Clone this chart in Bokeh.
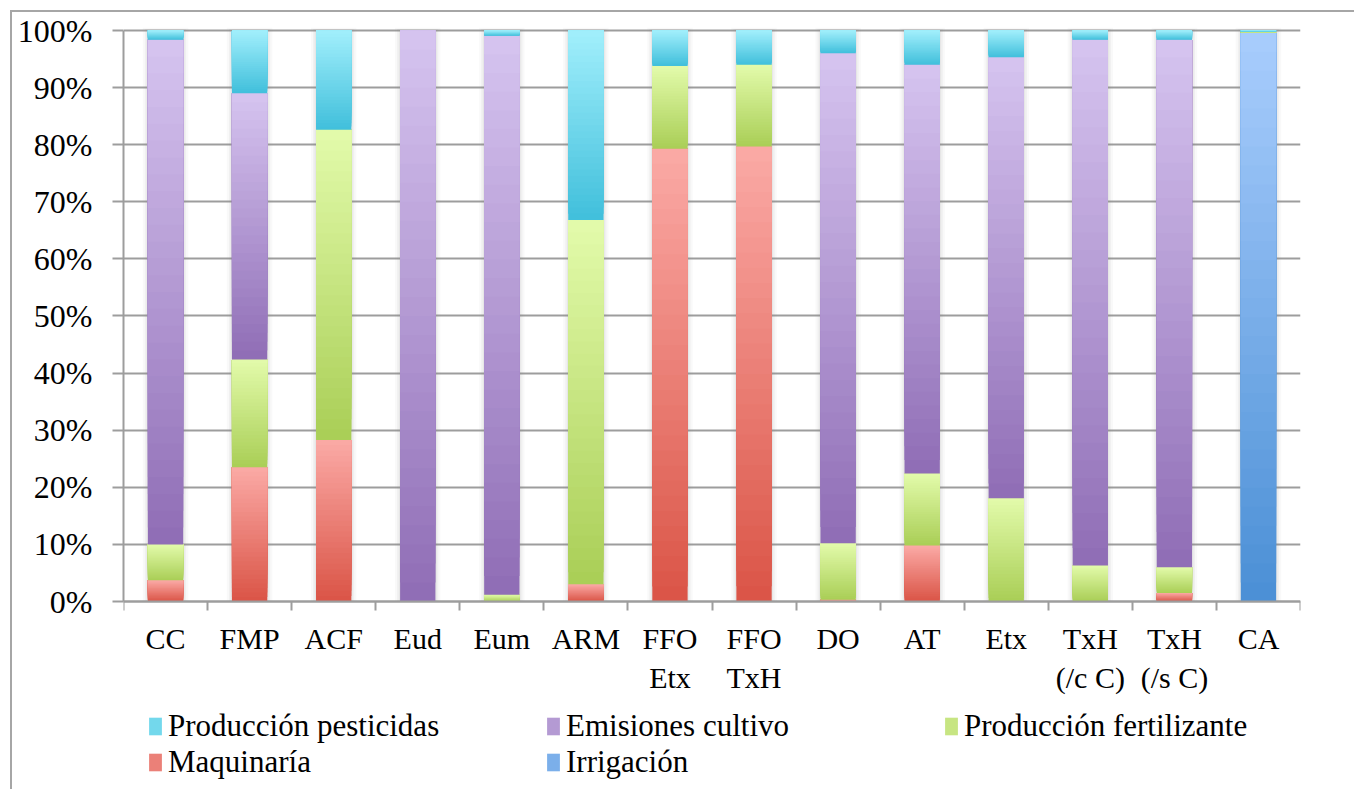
import numpy as np
from bokeh.plotting import figure
from bokeh.models import (Range1d, FixedTicker, PrintfTickFormatter, Legend,
                          LegendItem, ColumnDataSource)
from bokeh.embed import file_html
from bokeh.resources import INLINE

# ---------------- data (percent of total, per category) ----------------
categories = ["CC", "FMP", "ACF", "Eud", "Eum", "ARM", "FFO\nEtx", "FFO\nTxH",
              "DO", "AT", "Etx", "TxH\n(/c C)", "TxH\n(/s C)", "CA"]
irrigacion   = [0, 0, 0, 0, 0, 0, 0, 0, 0, 0, 0, 0, 0, 99.6]
maquinaria   = [3.7, 23.5, 28.3, 0, 0, 3.0, 79.3, 79.7, 0.3, 9.8, 0, 0, 1.5, 0]
fertilizante = [6.3, 18.9, 54.3, 0, 1.2, 63.8, 14.5, 14.3, 9.9, 12.6, 18.1, 6.3, 4.5, 0.2]
emisiones    = [88.4, 46.6, 0, 100, 97.9, 0, 0, 0, 85.8, 71.6, 77.2, 92.1, 92.4, 0]
pesticidas   = [1.6, 11.0, 17.4, 0, 0.9, 33.2, 6.2, 6.0, 4.0, 6.0, 4.7, 1.6, 1.6, 0.2]

series_names = ["Irrigación", "Maquinaría", "Producción fertilizante",
                "Emisiones cultivo", "Producción pesticidas"]
series_values = [irrigacion, maquinaria, fertilizante, emisiones, pesticidas]
# (bottom/dark colour, top/light colour) of each gradient
series_colors = [("#4a8fd5", "#a9cdfd"),
                 ("#da5446", "#fbaaa6"),
                 ("#a9ce56", "#e3fbab"),
                 ("#8f6db5", "#d6c4f0"),
                 ("#40bfdb", "#a2effc")]
legend_order = ["Producción pesticidas", "Emisiones cultivo",
                "Producción fertilizante", "Maquinaría", "Irrigación"]
y_ticks = list(range(0, 101, 10))

FONT = "Liberation Serif"
GRID = "#9d9d9d"
HALF = 0.21
NSLICE = 30


def hex2rgb(h):
    h = h.lstrip("#")
    return np.array([int(h[i:i + 2], 16) for i in (0, 2, 4)], dtype=float)


def lerp(c0, c1, t):
    a, b = hex2rgb(c0), hex2rgb(c1)
    c = a + (b - a) * t
    return "#%02x%02x%02x" % tuple(int(round(v)) for v in c)


# the plot frame reaches down to the legend area; the x axis sits at y = 0
p = figure(width=1344, height=779, output_backend="svg", toolbar_location=None,
           x_range=Range1d(-0.5, len(categories) - 0.5),
           y_range=Range1d(-32.224, 100.525),
           min_border_left=111, min_border_right=56, min_border_top=15,
           min_border_bottom=6)
# chart-area border (top and left edges; the others lie outside the window)
p.styles = {"margin-left": "10px", "margin-top": "10px",
            "border-left": "2px solid #a6a6a6", "border-top": "2px solid #a6a6a6"}
p.outline_line_color = None
p.background_fill_color = "white"
p.border_fill_color = "white"

# soft shadow behind bars
xs = np.arange(len(categories))
for w, a in ((0.06, 0.05), (0.035, 0.07), (0.015, 0.09)):
    p.quad(left=xs - HALF - w, right=xs + HALF + w, bottom=0,
           top=np.array(pesticidas) * 0 + 100.0 + w * 8,
           fill_color="#808080", fill_alpha=a, line_color=None)

# gradient-filled stacked bars
cum = np.zeros(len(categories))
legend_refs = {}
for name, vals, (dark, light) in zip(series_names, series_values, series_colors):
    vals = np.array(vals, dtype=float)
    L, R, B, T, C = [], [], [], [], []
    for i, h in enumerate(vals):
        if h <= 0:
            continue
        b0 = cum[i]
        for k in range(NSLICE):
            L.append(i - HALF)
            R.append(i + HALF)
            B.append(b0 + h * k / NSLICE)
            T.append(b0 + h)
            C.append(lerp(dark, light, (k + 0.5) / NSLICE))
    src = ColumnDataSource(dict(left=L, right=R, bottom=B, top=T, color=C))
    r = p.quad(left="left", right="right", bottom="bottom", top="top",
               fill_color="color", line_color=None, source=src)
    cum += vals
    # legend swatch uses the middle slice of the first segment of this series
    legend_refs[name] = (r, NSLICE // 2)

# axes
p.xgrid.grid_line_color = None
p.ygrid.grid_line_color = GRID
p.ygrid.grid_line_width = 2
p.ygrid.bounds = (0, 100)

p.xaxis.fixed_location = 0
p.xaxis.ticker = FixedTicker(ticks=list(range(len(categories))),
                             minor_ticks=[i - 0.5 for i in range(len(categories) + 1)])
p.xaxis.major_label_overrides = {i: c for i, c in enumerate(categories)}
p.xaxis.major_tick_line_color = None
p.xaxis.major_tick_out = 0
p.xaxis.major_tick_in = 0
p.xaxis.minor_tick_out = 9
p.xaxis.minor_tick_in = 0
p.xaxis.minor_tick_line_color = GRID
p.xaxis.minor_tick_line_width = 2
p.xaxis.axis_line_color = GRID
p.xaxis.axis_line_width = 2
p.xaxis.major_label_standoff = 11
p.xaxis.major_label_text_font = FONT
p.xaxis.major_label_text_font_size = "30px"
p.xaxis.major_label_text_color = "black"

p.yaxis.bounds = (0, 100)
p.yaxis.ticker = FixedTicker(ticks=y_ticks, minor_ticks=[])
p.yaxis.formatter = PrintfTickFormatter(format="%d%%")
p.yaxis.major_tick_out = 11
p.yaxis.major_tick_in = 0
p.yaxis.major_tick_line_color = GRID
p.yaxis.major_tick_line_width = 2
p.yaxis.axis_line_color = GRID
p.yaxis.axis_line_width = 2
p.yaxis.major_label_standoff = 20
p.yaxis.major_label_text_font = FONT
p.yaxis.major_label_text_font_size = "32px"
p.yaxis.major_label_text_color = "black"

# legend (3 columns, 2 rows) under the category labels
items = [LegendItem(label=n, renderers=[legend_refs[n][0]], index=legend_refs[n][1])
         for n in legend_order]
legend = Legend(items=items, location=(24, 5), orientation="horizontal", ncols=3,
                glyph_width=16, glyph_height=22, label_standoff=5, label_width=377,
                spacing=0, padding=0, margin=0, border_line_color=None,
                background_fill_alpha=0,
                label_text_font=FONT, label_text_font_size="31px",
                label_text_color="black")
p.add_layout(legend, "center")

open("out.html", "w").write(file_html(p, INLINE))
